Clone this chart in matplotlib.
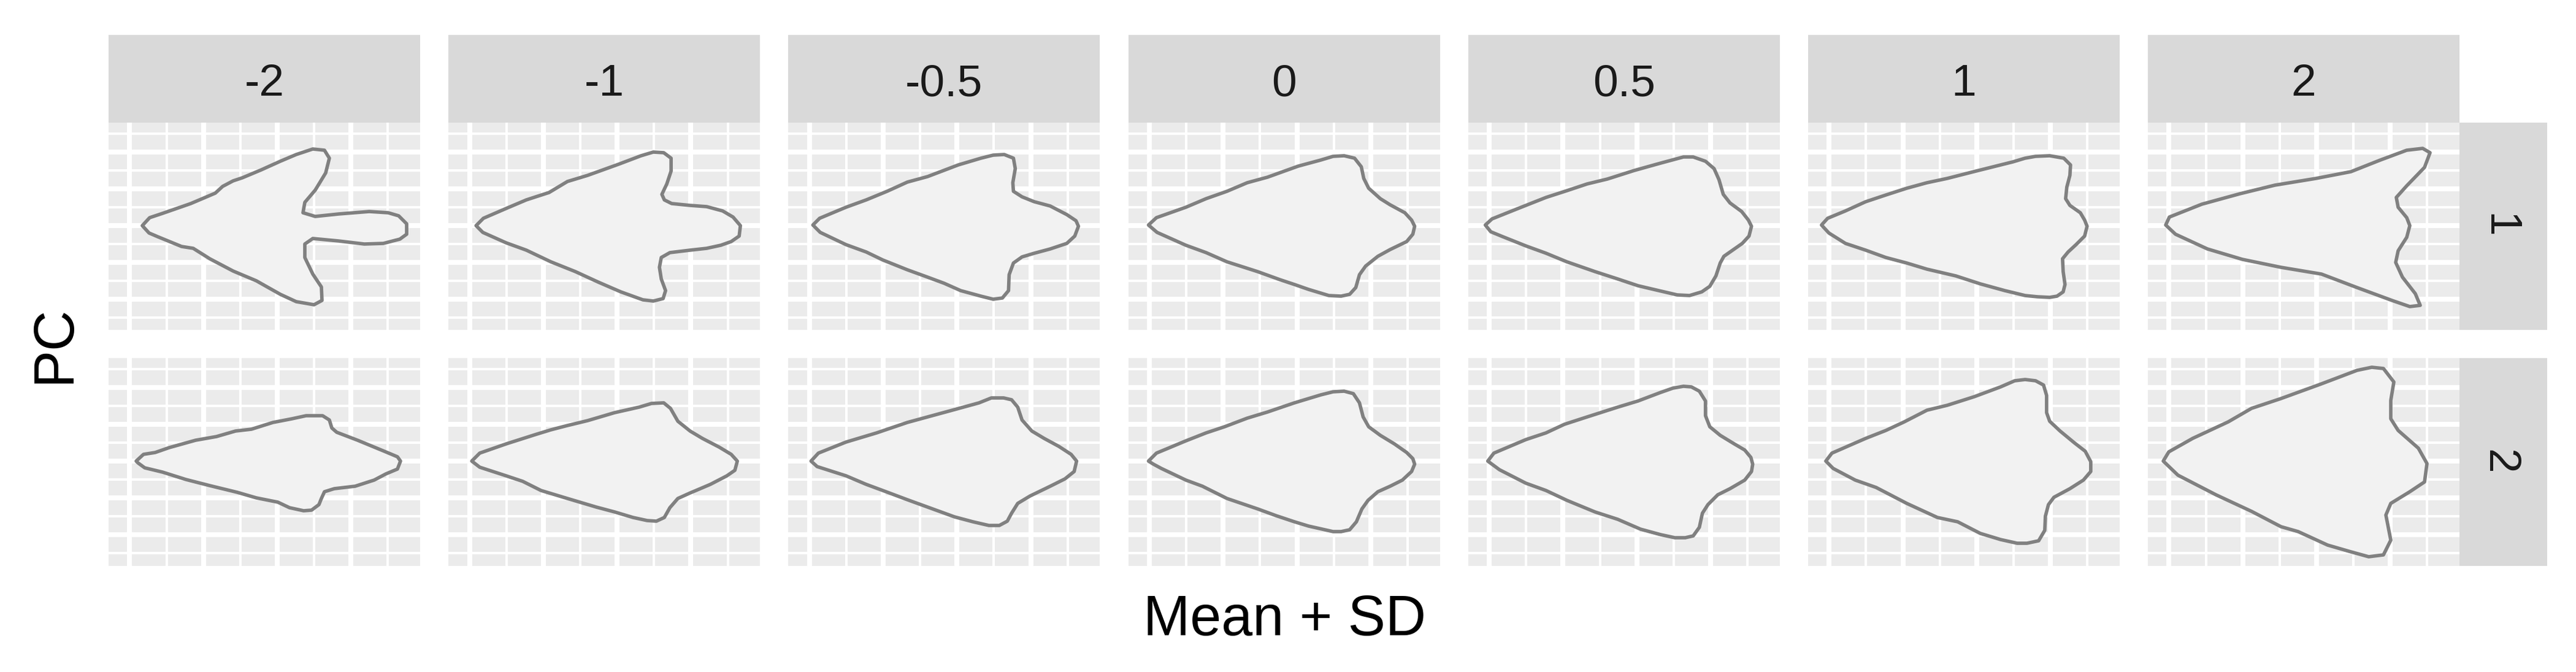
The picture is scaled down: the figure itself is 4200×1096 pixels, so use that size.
import numpy as np
import matplotlib
matplotlib.use("Agg")
import matplotlib.pyplot as plt

plt.rcParams['font.family'] = ['Liberation Sans', 'DejaVu Sans']

# --- Data: facet labels ---
sd_levels = ['-2', '-1', '-0.5', '0', '0.5', '1', '2']
pc_levels = ['1', '2']

# --- Data: outlines (x, y), tip on the left ---
pc1_m2 = [(-220, 0), (-208, 13), (-187, 20), (-141, 36), (-101, 53), (-89, 64), (-72, 73), (-57, 78),
          (-26, 91), (5, 105), (31, 116), (58, 125), (77, 123), (85, 110), (79, 86), (62, 58), (45, 38),
          (42, 21), (62, 15), (100, 19), (150, 23), (181, 21), (198, 16), (211, 3), (211, -14), (200, -22),
          (173, -29), (142, -30), (100, -25), (58, -21), (45, -30), (45, -52), (58, -79), (72, -100),
          (73, -122), (60, -129), (31, -124), (5, -112), (-34, -90), (-72, -74), (-110, -54), (-137, -37),
          (-156, -34), (-195, -18), (-209, -12)]
pc1_m1 = [(-230, 0), (-218, 12), (-181, 28), (-148, 42), (-111, 54), (-81, 72), (-48, 82), (2, 100),
          (39, 114), (59, 120), (76, 119), (88, 110), (88, 89), (81, 68), (73, 51), (77, 42), (89, 36),
          (119, 33), (146, 31), (172, 24), (189, 14), (201, 0), (199, -17), (186, -26), (169, -32),
          (146, -37), (119, -40), (86, -44), (72, -52), (69, -68), (72, -87), (79, -106), (75, -119),
          (59, -123), (42, -121), (6, -108), (-31, -92), (-68, -75), (-108, -59), (-148, -40), (-181, -28),
          (-219, -11)]
pc1_m05 = [(-235, 1), (-224, 12), (-181, 30), (-148, 42), (-114, 56), (-81, 71), (-48, 80), (2, 99),
           (39, 110), (59, 115), (77, 116), (92, 110), (95, 93), (91, 70), (92, 56), (106, 47), (126, 39),
           (152, 32), (179, 18), (194, 8), (198, -1), (192, -17), (179, -29), (152, -38), (126, -45),
           (106, -51), (92, -61), (85, -80), (84, -106), (74, -118), (59, -120), (39, -115), (6, -106),
           (-21, -94), (-48, -84), (-81, -72), (-121, -56), (-148, -43), (-181, -31), (-223, -11)]
pc1_0 = [(-242, 1), (-229, 13), (-181, 30), (-148, 44), (-114, 56), (-81, 70), (-48, 79), (2, 97),
         (39, 107), (59, 113), (77, 114), (94, 110), (105, 96), (109, 77), (117, 61), (136, 44), (152, 34),
         (176, 21), (187, 9), (192, -1), (189, -14), (179, -26), (152, -39), (132, -50), (112, -66),
         (102, -80), (96, -101), (86, -112), (72, -115), (52, -114), (19, -104), (-4, -96), (-28, -88),
         (-64, -75), (-114, -59), (-148, -44), (-181, -32), (-228, -11)]
pc1_p05 = [(-247, 1), (-236, 11), (-191, 29), (-148, 46), (-114, 57), (-81, 68), (-48, 76), (-4, 90),
           (39, 102), (76, 112), (92, 112), (112, 105), (126, 93), (134, 75), (141, 51), (152, 37),
           (171, 23), (182, 9), (187, -1), (183, -17), (172, -29), (152, -43), (142, -50), (136, -61),
           (129, -82), (119, -99), (106, -108), (86, -114), (66, -113), (36, -106), (2, -98), (-31, -87),
           (-68, -75), (-114, -59), (-148, -45), (-181, -33), (-221, -17), (-238, -10)]
pc1_p1 = [(-253, 1), (-243, 12), (-214, 24), (-181, 39), (-148, 50), (-114, 61), (-81, 70), (-48, 77),
          (-1, 89), (39, 99), (59, 104), (79, 110), (96, 113), (119, 114), (142, 110), (153, 99), (152, 82),
          (147, 63), (145, 44), (152, 33), (169, 21), (176, 9), (180, -1), (176, -17), (162, -31),
          (149, -43), (140, -54), (141, -75), (144, -96), (141, -108), (131, -115), (119, -117),
          (99, -116), (79, -114), (46, -106), (6, -95), (-34, -82), (-81, -71), (-114, -61), (-148, -52),
          (-181, -40), (-214, -29), (-241, -12)]
pc1_p2 = [(-246, 1), (-240, 14), (-187, 35), (-125, 52), (-68, 66), (-1, 77), (56, 88), (104, 107),
          (147, 123), (173, 126), (185, 119), (176, 95), (147, 65), (130, 46), (133, 30), (147, 13),
          (152, 0), (147, -19), (133, -41), (129, -60), (140, -84), (161, -111), (169, -130), (152, -132),
          (123, -122), (66, -101), (8, -79), (-58, -68), (-121, -55), (-178, -38), (-230, -14)]

pc2_m2 = [(-230, 0), (-218, 11), (-199, 14), (-176, 22), (-133, 34), (-99, 40), (-68, 49), (-42, 52),
          (-7, 63), (24, 69), (47, 74), (74, 74), (85, 67), (89, 54), (97, 47), (131, 34), (177, 15),
          (196, 7), (201, 0), (196, -13), (177, -21), (158, -31), (127, -41), (93, -45), (77, -50),
          (72, -61), (68, -71), (56, -80), (43, -81), (20, -76), (1, -67), (-34, -60), (-65, -51),
          (-110, -40), (-149, -30), (-187, -18), (-216, -11), (-227, -3)]
pc2_m1 = [(-237, 0), (-224, 13), (-181, 28), (-134, 43), (-108, 51), (-81, 58), (-48, 66), (-4, 79),
          (36, 88), (56, 94), (76, 95), (87, 86), (99, 65), (119, 49), (139, 37), (166, 23), (186, 11),
          (196, 0), (192, -15), (179, -24), (152, -38), (119, -52), (99, -61), (86, -76), (77, -92),
          (64, -98), (49, -97), (26, -92), (-4, -83), (-34, -75), (-81, -61), (-124, -48), (-154, -33),
          (-181, -24), (-224, -10)]
pc2_m05 = [(-238, 0), (-226, 13), (-181, 31), (-131, 46), (-81, 63), (-48, 72), (-4, 84), (36, 95),
           (56, 103), (76, 103), (89, 100), (99, 88), (106, 67), (122, 49), (142, 37), (166, 24),
           (186, 11), (195, 0), (191, -17), (176, -29), (152, -41), (119, -57), (99, -69), (89, -85),
           (82, -98), (69, -105), (52, -105), (26, -99), (-4, -91), (-48, -75), (-81, -63), (-121, -48),
           (-148, -38), (-181, -24), (-228, -9)]
pc2_0 = [(-242, 0), (-229, 13), (-181, 33), (-148, 46), (-118, 56), (-81, 70), (-48, 80), (-4, 95),
         (39, 108), (59, 113), (77, 114), (92, 110), (102, 95), (108, 72), (117, 56), (136, 42), (159, 28),
         (179, 14), (189, 4), (192, -5), (187, -17), (172, -31), (152, -41), (132, -50), (116, -64),
         (106, -78), (97, -99), (86, -112), (72, -115), (59, -115), (19, -106), (-4, -99), (-34, -89),
         (-64, -78), (-114, -61), (-154, -41), (-181, -31), (-221, -12), (-234, -5)]
pc2_p05 = [(-243, 0), (-233, 13), (-181, 35), (-148, 46), (-118, 60), (-81, 72), (-31, 88), (2, 98),
           (39, 112), (59, 119), (76, 122), (89, 121), (102, 114), (112, 98), (112, 74), (119, 56),
           (136, 42), (159, 28), (176, 18), (186, 6), (189, -5), (187, -17), (176, -31), (152, -45),
           (132, -55), (116, -71), (107, -85), (102, -108), (92, -122), (79, -125), (62, -125), (39, -120),
           (6, -111), (-31, -95), (-68, -83), (-114, -64), (-148, -48), (-181, -36), (-224, -14)]
pc2_p1 = [(-246, 0), (-236, 13), (-181, 37), (-148, 50), (-118, 64), (-81, 83), (-48, 91), (-4, 105),
          (39, 121), (62, 131), (79, 133), (96, 131), (109, 124), (114, 107), (114, 79), (119, 65),
          (136, 49), (159, 30), (177, 16), (186, -1), (186, -17), (174, -31), (152, -45), (126, -59),
          (117, -71), (112, -90), (111, -113), (101, -130), (82, -134), (66, -134), (39, -128), (6, -118),
          (-31, -99), (-64, -92), (-114, -69), (-164, -43), (-198, -31), (-234, -12)]
pc2_p2 = [(-250, 0), (-241, 15), (-202, 37), (-144, 64), (-106, 86), (-58, 102), (8, 126), (66, 148),
          (90, 153), (109, 151), (126, 129), (121, 99), (121, 69), (133, 50), (166, 21), (180, -4),
          (176, -34), (152, -50), (121, -69), (113, -88), (121, -129), (109, -153), (85, -156), (56, -148),
          (18, -137), (-30, -115), (-58, -107), (-106, -82), (-164, -55), (-226, -23)]

outlines = {
    '1': [pc1_m2, pc1_m1, pc1_m05, pc1_0, pc1_p05, pc1_p1, pc1_p2],
    '2': [pc2_m2, pc2_m1, pc2_m05, pc2_0, pc2_p05, pc2_p1, pc2_p2],
}

# --- Layout (pixels of a 4200x1096 canvas) ---
W, H = 4200, 1096
DPI = 300
COL_LEFT, COL_PITCH, PANEL_W = 177, 554.17, 508
ROW_TOP = [200, 584]
ROW_BOT = [537.7, 922.7]
STRIP_TOP = 57
STRIP_W = 143

# grid breaks in data units
x_major = np.array([-240.6, -120.3, 0, 120.3])
x_minor = x_major + 60.14
y_major = np.array([-120, -60, 0, 60, 120])
y_minor = np.array([-150, -90, -30, 30, 90, 150])

PANEL_BG = '#EBEBEB'
STRIP_BG = '#D9D9D9'
TEXT_COL = '#1A1A1A'

fig = plt.figure(figsize=(W / DPI, H / DPI), dpi=DPI)
fig.patch.set_facecolor('white')


def box(ax):
    ax.set_xticks([])
    ax.set_yticks([])
    for s in ax.spines.values():
        s.set_visible(False)


for r, pc in enumerate(pc_levels):
    top, bot = ROW_TOP[r], ROW_BOT[r]
    for c, lev in enumerate(sd_levels):
        left = COL_LEFT + COL_PITCH * c
        ax = fig.add_axes([left / W, 1 - bot / H, PANEL_W / W, (bot - top) / H])
        ax.set_facecolor(PANEL_BG)
        ax.set_xlim(-275, PANEL_W - 275)
        ax.set_ylim(168 - (bot - top), 168)
        for xv in x_minor:
            ax.axvline(xv, color='white', lw=0.96, zorder=1)
        for yv in y_minor:
            ax.axhline(yv, color='white', lw=0.96, zorder=1)
        for xv in x_major:
            ax.axvline(xv, color='white', lw=1.92, zorder=1.1)
        for yv in y_major:
            ax.axhline(yv, color='white', lw=1.92, zorder=1.1)
        pts = np.array(outlines[pc][c])
        ax.fill(pts[:, 0], pts[:, 1], facecolor='#F2F2F2', edgecolor='#808080',
                lw=1.35, joinstyle='round', zorder=3)
        box(ax)

    # right strip
    sx = COL_LEFT + COL_PITCH * 6 + PANEL_W
    sax = fig.add_axes([sx / W, 1 - bot / H, STRIP_W / W, (bot - top) / H])
    sax.set_facecolor(STRIP_BG)
    box(sax)
    fig.text((sx + STRIP_W / 2 - 26.5) / W, 1 - ((top + bot) / 2) / H, pc,
             rotation=-90, rotation_mode='anchor', ha='center', va='baseline',
             fontsize=17.6, color=TEXT_COL)

# top strips
for c, lev in enumerate(sd_levels):
    left = COL_LEFT + COL_PITCH * c
    sax = fig.add_axes([left / W, 1 - ROW_TOP[0] / H, PANEL_W / W, (ROW_TOP[0] - STRIP_TOP) / H])
    sax.set_facecolor(STRIP_BG)
    box(sax)
    fig.text((left + PANEL_W / 2) / W, 1 - 156.5 / H, lev, ha='center', va='baseline',
             fontsize=17.6, color=TEXT_COL)

# axis titles
fig.text(2094 / W, 1 - 1036 / H, 'Mean + SD', ha='center', va='baseline',
         fontsize=22, color='black')
fig.text(113 / W, 1 - 561 / H, 'PC', rotation=90, rotation_mode='anchor',
         ha='center', va='baseline', fontsize=22, color='black')

fig.savefig('out.png', dpi=DPI, facecolor='white')
